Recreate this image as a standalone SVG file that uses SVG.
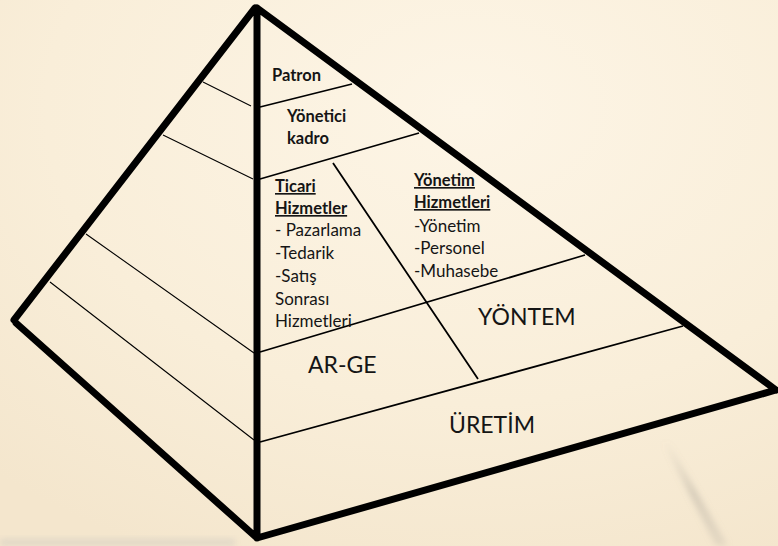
<svg xmlns="http://www.w3.org/2000/svg" width="778" height="546" viewBox="0 0 778 546">
<defs>
<radialGradient id="bg" cx="0.6" cy="0.2" r="0.9">
<stop offset="0" stop-color="#fdf5e6"/>
<stop offset="0.6" stop-color="#f9eed9"/>
<stop offset="1" stop-color="#f4e6cd"/>
</radialGradient>
<linearGradient id="streak" x1="0" y1="0" x2="0" y2="1">
<stop offset="0" stop-color="#9a958c" stop-opacity="0"/>
<stop offset="0.5" stop-color="#9a958c" stop-opacity="0.35"/>
<stop offset="1" stop-color="#b0a99e" stop-opacity="0.25"/>
</linearGradient>
<filter id="blur" x="-50%" y="-50%" width="200%" height="200%"><feGaussianBlur stdDeviation="3"/></filter>
<style>
.thick{stroke:#000;stroke-width:7;fill:none;stroke-linecap:round;stroke-linejoin:round}
.thin{stroke:#000;stroke-width:1.1;fill:none}
.mid{stroke:#000;stroke-width:1.8;fill:none}
text{font-family:Lato,"Open Sans","Liberation Sans",sans-serif;fill:#151515}
.b{font-weight:bold;font-size:16.5px}
.bu{font-weight:bold;font-size:16.5px;text-decoration:underline}
.n{font-size:17px}
.big{font-size:23px}
</style>
</defs>
<rect width="778" height="546" fill="url(#bg)"/>
<path d="M662 440 L668 442 L728 546 L716 546 Z" fill="url(#streak)" filter="url(#blur)"/>
<rect x="0" y="539" width="235" height="7" fill="#d3cdc2" opacity="0.6" filter="url(#blur)"/>
<g id="connectors">
<path class="thick" d="M255 8 L14 320 M16 323 L257 538 L776 390 M257 8 L257 538 M257 8 L776 390"/>
<path class="thin" d="M203 82 L251 106 M163 135 L253 179 M86 234 L254 353 M50 282 L254 440"/>
<path class="mid" d="M260 107 L352 84 M260 179 L419 133 M260 352 L585 255 M260 442 L683 326 M333 163 L478 379"/>
</g>
<g id="patron"><text class="b" x="272" y="81">Patron</text></g>
<g id="yonetici"><text class="b" x="287" y="122">Yönetici</text><text class="b" x="287" y="144">kadro</text></g>
<g id="ticari">
<text class="bu" x="275" y="192">Ticari</text>
<text class="bu" x="275" y="214">Hizmetler</text>
<text class="n" x="275" y="236">- Pazarlama</text>
<text class="n" x="275" y="259">-Tedarik</text>
<text class="n" x="275" y="282">-Satış</text>
<text class="n" x="275" y="305">Sonrası</text>
<text class="n" x="275" y="327">Hizmetleri</text>
</g>
<g id="yonetim">
<text class="bu" x="414" y="186">Yönetim</text>
<text class="bu" x="414" y="208">Hizmetleri</text>
<text class="n" x="414" y="232">-Yönetim</text>
<text class="n" x="414" y="254">-Personel</text>
<text class="n" x="414" y="277">-Muhasebe</text>
</g>
<g id="arge"><text class="big" x="308" y="373">AR-GE</text></g>
<g id="yontem"><text class="big" x="478" y="325">YÖNTEM</text></g>
<g id="uretim"><text class="big" x="449" y="433">ÜRETİM</text></g>
</svg>
